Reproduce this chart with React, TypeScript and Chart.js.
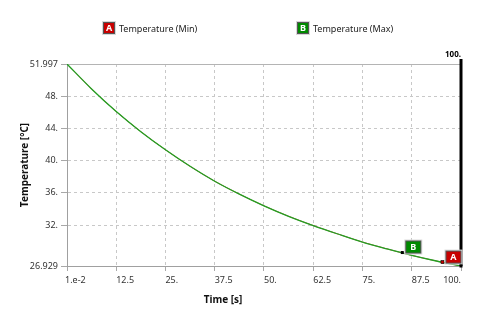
import React, { useEffect, useRef } from "react";
import { Chart, registerables } from "chart.js";

Chart.register(...registerables);

const times = [0.01, 6.25, 12.5, 18.75, 25, 31.25, 37.5, 43.75, 50, 56.25, 62.5, 68.75, 75, 81.25, 87.5, 93.75, 100];
const tempMax = [51.997, 48.9, 46.1, 43.6, 41.35, 39.3, 37.45, 35.85, 34.4, 33.1, 31.95, 30.9, 29.9, 29.05, 28.25, 27.55, 26.929];
const tempMin = [51.997, 48.9, 46.1, 43.6, 41.35, 39.3, 37.45, 35.85, 34.4, 33.1, 31.95, 30.9, 29.9, 29.05, 28.25, 27.55, 26.929];

const xTicks = [0.01, 12.5, 25, 37.5, 50, 62.5, 75, 87.5, 100];
const xTickLabels = ["1.e-2", "12.5", "25.", "37.5", "50.", "62.5", "75.", "87.5", "100."];
const yTicks = [26.929, 32, 36, 40, 44, 48, 51.997];
const yTickLabels = ["26.929", "32.", "36.", "40.", "44.", "48.", "51.997"];

const markerMax = { t: 85.1, temp: 28.6, letter: "B" };
const markerMin = { t: 95.3, temp: 27.35, letter: "A" };

const FONT = '"Noto Sans", "DejaVu Sans", sans-serif';
const RED = "#c80000";
const GREEN = "#008a00";

function drawTag(ctx: CanvasRenderingContext2D, x: number, y: number, w: number, h: number, fill: string, letter: string) {
  ctx.save();
  ctx.fillStyle = "#d8d8d8";
  ctx.fillRect(x - 1, y - 1, w + 2, h + 2);
  ctx.fillStyle = "#555";
  ctx.fillRect(x, y, w, h);
  ctx.fillStyle = fill;
  ctx.fillRect(x + 1, y + 1, w - 2, h - 2);
  ctx.fillStyle = "#fff";
  ctx.font = `bold 9px ${FONT}`;
  ctx.textAlign = "center";
  ctx.textBaseline = "middle";
  ctx.fillText(letter, x + w / 2, y + h / 2 + 0.5);
  ctx.restore();
}

const overlay = {
  id: "overlay",
  afterDraw(chart: any) {
    const ctx: CanvasRenderingContext2D = chart.ctx;
    const xs = chart.scales.x;
    const ys = chart.scales.y;
    const area = chart.chartArea;
    ctx.save();

    // legend
    drawTag(ctx, 103, 22, 12, 12, RED, "A");
    drawTag(ctx, 297, 22, 12, 12, GREEN, "B");
    ctx.fillStyle = "#222";
    ctx.font = `9px ${FONT}`;
    ctx.textAlign = "left";
    ctx.textBaseline = "middle";
    ctx.fillText("Temperature (Min)", 119, 29);
    ctx.fillText("Temperature (Max)", 313, 29);

    // x tick labels
    ctx.fillStyle = "#333";
    ctx.font = `9px ${FONT}`;
    xTicks.forEach((v, i) => {
      const px = xs.getPixelForValue(v);
      const last = i === xTicks.length - 1;
      ctx.textAlign = last ? "right" : "left";
      ctx.fillText(xTickLabels[i], last ? px : i === 0 ? px - 2 : px, 280);
    });

    // axis titles
    ctx.fillStyle = "#111";
    ctx.font = `bold 10px ${FONT}`;
    ctx.textAlign = "center";
    ctx.fillText("Time [s]", (area.left + area.right) / 2 - 41, 300);
    ctx.save();
    ctx.translate(25, 165);
    ctx.rotate(-Math.PI / 2);
    ctx.fillText("Temperature [°C]", 0, 0);
    ctx.restore();

    // current time line
    const lx = xs.getPixelForValue(100);
    ctx.strokeStyle = "#000";
    ctx.lineWidth = 3;
    ctx.beginPath();
    ctx.moveTo(lx, area.top - 5);
    ctx.lineTo(lx, area.bottom);
    ctx.stroke();
    ctx.fillStyle = "#000";
    ctx.font = `bold 8px ${FONT}`;
    ctx.textAlign = "right";
    ctx.textBaseline = "alphabetic";
    ctx.fillText("100.", lx, 57);

    // markers
    const bx = xs.getPixelForValue(markerMax.t);
    const by = ys.getPixelForValue(markerMax.temp);
    ctx.fillStyle = "#000";
    ctx.fillRect(bx - 1.5, by - 1.5, 3, 3);
    drawTag(ctx, bx + 3, by - 12, 16, 13, GREEN, markerMax.letter);

    const ax = xs.getPixelForValue(markerMin.t);
    const ay = ys.getPixelForValue(markerMin.temp);
    ctx.fillStyle = RED;
    ctx.fillRect(ax - 1.5, ay - 2, 3, 3);
    ctx.strokeStyle = "#000";
    ctx.lineWidth = 0.6;
    ctx.strokeRect(ax - 1.5, ay - 2, 3, 3);
    drawTag(ctx, ax + 3, ay - 12, 16, 13, RED, markerMin.letter);

    const ex = xs.getPixelForValue(times[times.length - 1]);
    const ey = ys.getPixelForValue(tempMin[tempMin.length - 1]);
    ctx.fillStyle = "#000";
    ctx.fillRect(ex - 1.5, ey - 1.5, 3, 3);

    ctx.restore();
  },
};

export default function App() {
  const ref = useRef<HTMLCanvasElement | null>(null);
  useEffect(() => {
    if (!ref.current) return;
    const chart = new Chart(ref.current, {
      type: "line",
      data: {
        datasets: [
          {
            label: "Temperature (Max)",
            data: times.map((t, i) => ({ x: t, y: tempMax[i] })),
            borderColor: "#22a022",
            borderWidth: 1.3,
            pointRadius: 0,
            cubicInterpolationMode: "monotone",
          },
          {
            label: "Temperature (Min)",
            data: times.map((t, i) => ({ x: t, y: tempMin[i] })),
            borderColor: RED,
            borderWidth: 0.7,
            pointRadius: 0,
            cubicInterpolationMode: "monotone",
          },
        ],
      },
      options: {
        animation: false,
        responsive: false,
        maintainAspectRatio: false,
        layout: { padding: { top: 64, right: 19, left: 0, bottom: 0 } },
        plugins: { legend: { display: false }, tooltip: { enabled: false } },
        scales: {
          x: {
            type: "linear",
            min: 0.01,
            max: 100,
            afterBuildTicks: (s: any) => {
              s.ticks = xTicks.map((v) => ({ value: v }));
            },
            afterFit: (s: any) => {
              s.height = 54;
            },
            ticks: { display: false },
            grid: {
              color: "#c8c8c8",
              tickColor: "#a8a8a8",
              tickLength: 5,
              tickBorderDash: [],
            },
            border: { display: true, color: "#a0a0a0", width: 1, dash: [3, 3] },
          },
          y: {
            type: "linear",
            min: 26.929,
            max: 51.997,
            afterBuildTicks: (s: any) => {
              s.ticks = yTicks.map((v) => ({ value: v }));
            },
            afterFit: (s: any) => {
              s.width = 67;
            },
            ticks: {
              padding: 3,
              color: "#333",
              font: { family: FONT, size: 9 },
              callback: (_v: any, i: number) => yTickLabels[i],
            },
            grid: {
              color: (c: any) => (c.index === yTicks.length - 1 ? "#b4b4b4" : "#c8c8c8"),
              tickColor: "#a8a8a8",
              tickLength: 6,
              tickBorderDash: [],
            },
            border: {
              display: true,
              color: "#a0a0a0",
              width: 1,
              dash: (c: any) => (c.index === yTicks.length - 1 ? [] : [3, 3]),
            },
          },
        },
      },
      plugins: [overlay],
    } as any);
    return () => chart.destroy();
  }, []);
  return (
    <div style={{ position: "fixed", left: 0, top: 0, width: 480, height: 320, background: "#fff" }}>
      <canvas ref={ref} width={480} height={320} style={{ width: 480, height: 320 }} />
    </div>
  );
}
